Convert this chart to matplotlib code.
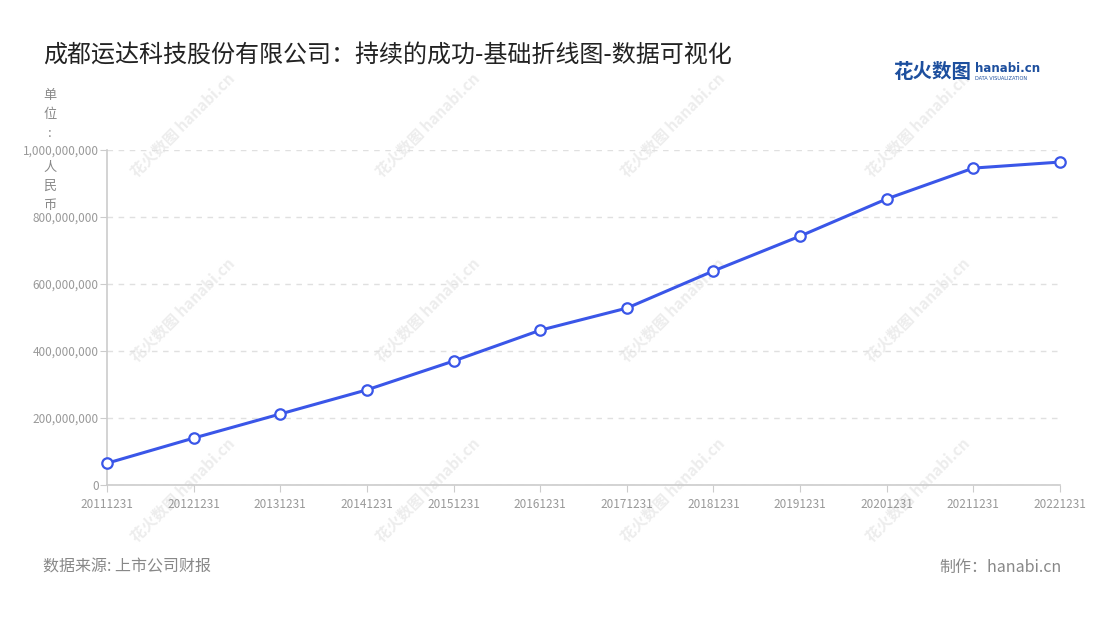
import numpy as np
import matplotlib.pyplot as plt

plt.rcParams['font.family'] = ['Noto Sans CJK SC', 'DejaVu Sans']

# 数据
dates = ['20111231', '20121231', '20131231', '20141231', '20151231', '20161231',
         '20171231', '20181231', '20191231', '20201231', '20211231', '20221231']
revenue = [65e6, 140e6, 212e6, 284e6, 370e6, 462e6,
           528e6, 639e6, 743e6, 854e6, 946e6, 964e6]
yticks = [0, 200e6, 400e6, 600e6, 800e6, 1000e6]

title = '成都运达科技股份有限公司：持续的成功-基础折线图-数据可视化'
source = '数据来源: 上市公司财报'
maker = '制作：hanabi.cn'

fig = plt.figure(figsize=(11, 6.2), dpi=100)
ax = fig.add_axes([107 / 1100, 1 - 485 / 620, (1060 - 107) / 1100, (485 - 150) / 620])
ax.set_zorder(2)

# 水印
for wy in [125, 310, 490]:
    for wx in [183, 428, 673, 918]:
        fig.text(wx / 1100, 1 - wy / 620, '花火数图 hanabi.cn', rotation=45,
                 ha='center', va='center', fontsize=11, color='#ededed',
                 fontweight='bold', zorder=0)

x = np.arange(len(dates))
ax.plot(x, revenue, color='#3a56e8', linewidth=2.2, marker='o', markersize=7.5,
        markerfacecolor='white', markeredgecolor='#3a56e8', markeredgewidth=1.6,
        zorder=3, clip_on=False)

ax.set_xlim(0, len(dates) - 1)
ax.set_ylim(0, 1e9)
ax.set_xticks(x)
ax.set_xticklabels(dates)
ax.set_yticks(yticks)
ax.set_yticklabels([f'{int(v):,}' for v in yticks])

ax.grid(axis='y', linestyle=(0, (4, 4)), color='#e0e0e0', linewidth=1)
ax.set_axisbelow(True)
for s in ['top', 'right']:
    ax.spines[s].set_visible(False)
for s in ['left', 'bottom']:
    ax.spines[s].set_color('#cccccc')
    ax.spines[s].set_linewidth(1.2)
ax.tick_params(axis='both', colors='#cccccc', labelcolor='#999999', labelsize=8.5, length=5)
ax.tick_params(axis='x', pad=4)
ax.tick_params(axis='y', pad=1)
ax.patch.set_alpha(0)

# 单位
fig.text(50 / 1100, 1 - 140 / 620, '单\n位\n:', ha='center', va='bottom',
         fontsize=9.5, color='#888888', linespacing=1.6)
fig.text(50 / 1100, 1 - 161 / 620, '人\n民\n币', ha='center', va='top',
         fontsize=9.5, color='#888888', linespacing=1.6)

fig.text(43 / 1100, 1 - 55 / 620, title, ha='left', va='center', fontsize=17.3, color='#222222')
fig.text(43 / 1100, 1 - 567 / 620, source, ha='left', va='center', fontsize=11.5, color='#888888')
fig.text(1062 / 1100, 1 - 567 / 620, maker, ha='right', va='center', fontsize=11.5, color='#888888')

# logo
fig.text(893 / 1100, 1 - 72 / 620, '花火数图', ha='left', va='center', fontsize=14,
         color='#1d4f9e', fontweight='bold')
fig.text(975 / 1100, 1 - 69 / 620, 'hanabi.cn', ha='left', va='center', fontsize=8.5,
         color='#1d4f9e', fontweight='bold', family='DejaVu Sans')
fig.text(975 / 1100, 1 - 78.5 / 620, 'DATA VISUALIZATION', ha='left', va='center', fontsize=3.6,
         color='#1d4f9e', family='DejaVu Sans')

fig.savefig('out.png', dpi=100, facecolor='white')
